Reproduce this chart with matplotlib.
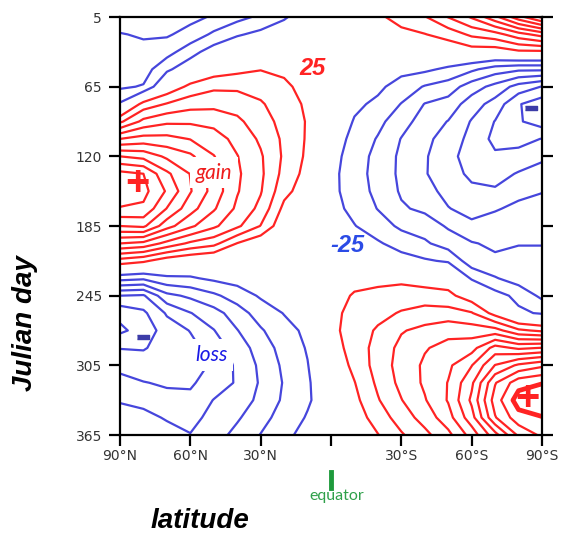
import numpy as np
import matplotlib.pyplot as plt
from matplotlib.lines import Line2D

# grid: latitude (deg, + = north) and day of year
lats = [90, 80, 70, 60, 50, 40, 30, 20, 10, 0, -10, -20, -30, -40, -50, -60, -70, -80, -90]
days = [5, 20, 35, 50, 65, 80, 95, 110, 125, 140, 155, 170, 185, 200, 215, 230, 245, 260,
        275, 290, 305, 320, 335, 350, 365]

# insolation change (W/m2), one list per latitude, values along `days`
lat_90 = [-85, -74, -68, -62, -54, -22, 45, 125, 200, 258, 268, 248, 200, 125, 40, -40, -125, -168, -180, -151, -133, -116, -101, -95, -90]
lat_80 = [-88, -77, -70, -62, -48, 35, 82, 135, 192, 250, 258, 245, 205, 118, 30, -45, -128, -155, -165, -152, -138, -124, -103, -97, -93]
lat_70 = [-82, -78, -60, -30, 5, 52, 95, 133, 170, 205, 222, 199, 160, 92, 10, -30, -82, -122, -138, -140, -136, -128, -118, -101, -96]
lat_60 = [-82, -66, -35, -8, 32, 65, 96, 124, 155, 174, 177, 160, 130, 70, 1, -28, -70, -101, -124, -132, -133, -128, -120, -108, -99]
lat_50 = [-72, -45, -12, 10, 45, 68, 92, 112, 126, 138, 140, 128, 105, 58, -5, -20, -55, -85, -101, -115, -122, -115, -99, -92, -85]
lat_40 = [-58, -28, 1, 18, 45, 65, 80, 92, 101, 104, 102, 95, 80, 24, -5, -15, -38, -62, -76, -88, -95, -97, -90, -78, -68]
lat_30 = [-45, -18, 5, 24, 40, 53, 62, 71, 78, 80, 77, 68, 49, 5, -5, -12, -22, -38, -53, -64, -70, -72, -68, -60, -49]
lat_20 = [-27, -15, 1, 20, 30, 36, 41, 45, 46, 42, 33, 18, 5, -3, -8, -12, -18, -24, -33, -40, -45, -48, -46, -38, -30]
lat_10 = [-15, -8, 2, 10, 16, 21, 23, 22, 20, 16, 10, 4, 1, -3, -6, -9, -12, -16, -20, -23, -26, -28, -28, -23, -18]
lat_0 = [-3, 1, 3, 5, 4, 2, -3, -10, -15, -18, -18, -16, -12, -6, 1, 6, 12, 16, 17, 12, 4, -5, -10, -10, -6]
lat_s10 = [8, 3, -3, -8, -14, -20, -27, -33, -37, -38, -37, -32, -24, -15, -2, 15, 28, 35, 38, 36, 32, 24, 18, 12, 8]
lat_s20 = [20, 8, -3, -12, -20, -30, -43, -52, -58, -60, -57, -51, -38, -22, -5, 18, 32, 43, 53, 59, 60, 55, 48, 36, 24]
lat_s30 = [35, 18, 3, -18, -35, -51, -65, -76, -80, -80, -78, -72, -55, -35, -15, 18, 38, 52, 73, 82, 85, 82, 74, 62, 47]
lat_s40 = [48, 24, 5, -20, -52, -76, -86, -93, -97, -98, -92, -80, -62, -46, -22, 12, 37, 60, 82, 98, 104, 104, 98, 85, 68]
lat_s50 = [76, 35, 5, -30, -62, -85, -101, -112, -118, -115, -107, -99, -78, -62, -28, 10, 32, 60, 92, 108, 120, 126, 127, 115, 93]
lat_s60 = [103, 55, 12, -45, -88, -113, -127, -132, -135, -130, -120, -108, -95, -73, -65, -28, 10, 52, 88, 115, 149, 170, 180, 165, 135]
lat_s70 = [143, 65, 10, -62, -108, -135, -151, -157, -146, -134, -122, -102, -90, -80, -70, -48, -15, 15, 85, 160, 201, 248, 262, 248, 190]
lat_s80 = [190, 90, 20, -70, -135, -173, -172, -160, -140, -123, -106, -95, -86, -76, -68, -62, -32, -20, 55, 145, 230, 290, 312, 290, 255]
lat_s90 = [230, 110, 20, -70, -151, -190, -188, -149, -130, -115, -101, -92, -84, -76, -68, -60, -56, -28, 45, 151, 245, 299, 315, 299, 280]

rows = [lat_90, lat_80, lat_70, lat_60, lat_50, lat_40, lat_30, lat_20, lat_10, lat_0,
        lat_s10, lat_s20, lat_s30, lat_s40, lat_s50, lat_s60, lat_s70, lat_s80, lat_s90]
field = np.array(rows, dtype=float).T   # shape (days, lats)

neg_levels = [-175, -150, -125, -100, -75, -50, -25]
pos_levels = [25, 50, 75, 100, 125, 150, 175, 200, 225, 250, 275]
peak_level = [300]

xticks = [90, 60, 30, 0, -30, -60, -90]
xticklabels = ['90°N', '60°N', '30°N', '', '30°S', '60°S', '90°S']
yticks = [5, 65, 125, 185, 245, 305, 365]
yticklabels = ['5', '65', '120', '185', '245', '305', '365']

red = '#ff2323'
blue = '#4646dc'

fig = plt.figure(figsize=(5.62, 5.35), dpi=100)
ax = fig.add_axes([0.2135, 0.1869, 0.7509, 0.7813])

ax.contour(lats, days, field, levels=neg_levels, colors=blue, linewidths=1.6, linestyles='solid')
ax.contour(lats, days, field, levels=pos_levels, colors=red, linewidths=1.6)
ax.contour(lats, days, field, levels=peak_level, colors=red, linewidths=3.4)

ax.set_xlim(90, -90)
ax.set_ylim(365, 5)
ax.set_xticks(xticks)
ax.set_xticklabels(xticklabels)
ax.set_yticks(yticks)
ax.set_yticklabels(yticklabels)
ax.tick_params(axis='both', direction='out', length=8, width=1.6, colors='black',
               labelcolor='#333333', labelsize=10)
ax.tick_params(axis='x', pad=2)
ax.tick_params(axis='y', pad=5, right=True)
for s in ax.spines.values():
    s.set_linewidth(1.6)

# contour labels and annotations
bold_it = dict(family='Liberation Sans', weight='bold', style='italic')
ax.text(8, 49, '25', color=red, fontsize=17, ha='center', va='center', **bold_it)
ax.text(-7, 202, '-25', color='#2b4be6', fontsize=17, ha='center', va='center', **bold_it)
ax.text(50, 139, 'gain', color='#ee1c1c', fontsize=15, family='Lato', style='italic',
        ha='center', va='center', zorder=5,
        bbox=dict(facecolor='white', edgecolor='none', pad=4))
ax.text(51, 296, 'loss', color='#1a1ae6', fontsize=15, family='Lato', style='italic',
        ha='center', va='center', zorder=5,
        bbox=dict(facecolor='white', edgecolor='none', pad=4))
ax.text(82.7, 149, '+', color=red, fontsize=30, family='Liberation Sans', weight='bold',
        ha='center', va='center')
ax.text(-83.6, 334, '+', color=red, fontsize=30, family='Liberation Sans', weight='bold',
        ha='center', va='center')
bar = [(-1, -0.4), (1, -0.4), (1, 0.4), (-1, 0.4)]
ax.plot([80.2], [280.6], marker=bar, ms=8, color='#3c3ca8', lw=0)
ax.plot([-85.3], [83.4], marker=bar, ms=8, color='#3c3ca8', lw=0)

fig.text(0.0445, 0.396, 'Julian day', rotation=90, fontsize=20, ha='center', va='center', **bold_it)
fig.text(0.356, 0.026, 'latitude', fontsize=20, ha='center', va='center', **bold_it)
fig.text(0.5996, 0.073, 'equator', color='#2fa04a', fontsize=11.5, family='Lato',
         ha='center', va='center')
fig.add_artist(Line2D([0.589, 0.589], [0.088, 0.118], color='#1e9a3c', lw=3.5))

fig.savefig('out.png', dpi=100)
